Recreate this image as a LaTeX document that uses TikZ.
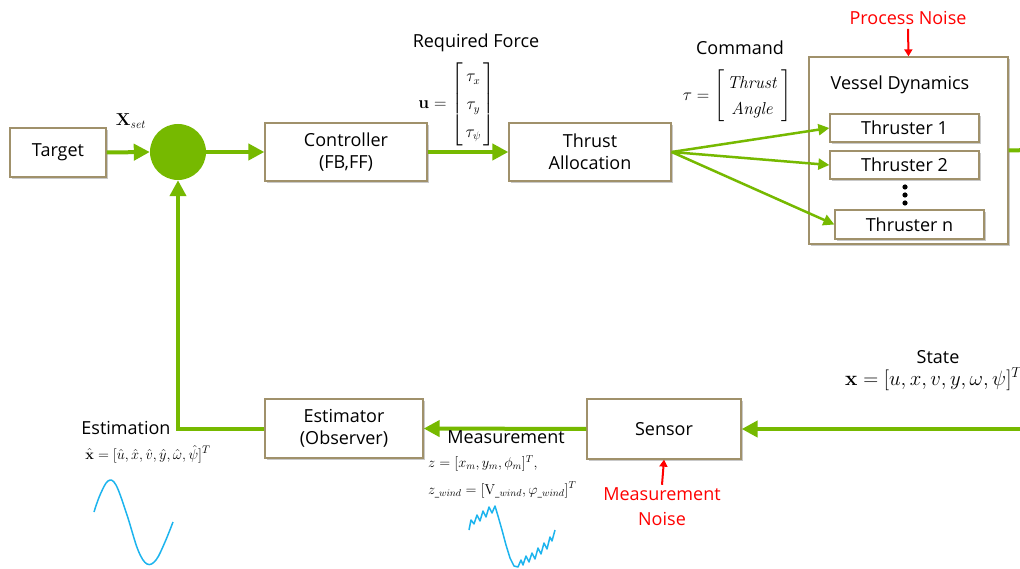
\documentclass[tikz,border=0pt]{standalone}
\usepackage{amsmath}
\usepackage[no-math]{fontspec}
\setmainfont{Open Sans}
\usetikzlibrary{arrows.meta,shadows}
\definecolor{ngreen}{HTML}{76B900}
\definecolor{boxedge}{HTML}{A0916B}
\definecolor{wave}{HTML}{1CB4EE}
\tikzset{
  blk/.style={draw=boxedge, line width=1.3pt, fill=white, inner sep=0pt, align=center,
    font=\fontsize{18}{22}\selectfont,
    drop shadow={opacity=0.35, shadow xshift=2pt, shadow yshift=-2pt, fill=black!60}},
  flow/.style={draw=ngreen, line width=4pt, -{Triangle[length=16pt,width=16pt]}},
  thin flow/.style={draw=ngreen, line width=2.5pt, -{Triangle[length=11pt,width=11pt]}},
  noise/.style={draw=red, line width=2pt, -{Triangle[length=7pt,width=8pt]}},
  lbl/.style={inner sep=0pt, font=\fontsize{18}{22}\selectfont},
  redlbl/.style={inner sep=0pt, text=red, align=center, font=\fontsize{18}{25}\selectfont},
  mth/.style={inner sep=0pt, font=\fontsize{17}{20}\selectfont},
  sig/.style={draw=wave, line width=1.5pt, line join=round}
}
\begin{document}
\begin{tikzpicture}[x=1pt,y=-1pt]
\clip (0,0) rectangle (1020,569);
\fill[white] (0,0) rectangle (1020,569);

% blocks
\node[blk, minimum width=96pt, minimum height=49pt] (target) at (58,152.5) {Target};
\node[circle, fill=ngreen, inner sep=0pt, minimum size=56pt] (sum) at (178,152) {};
\node[blk, minimum width=162pt, minimum height=58pt] (ctrl) at (346,152) {Controller\\(FB,FF)};
\node[blk, minimum width=162pt, minimum height=58pt] (alloc) at (590,152) {Thrust\\Allocation};
\node[blk, minimum width=199pt, minimum height=187pt] (vessel) at (908.5,150.5) {};
\node[lbl] (vtitle) at (900,85) {Vessel Dynamics};
\node[blk, minimum width=149pt, minimum height=28pt] (t1) at (904.5,128) {Thruster 1};
\node[blk, minimum width=149pt, minimum height=28pt] (t2) at (904.5,165) {Thruster 2};
\node[blk, minimum width=149pt, minimum height=29pt] (tn) at (909.5,224.5) {Thruster n};
\foreach \yy in {187,195,203}
  \fill (905,\yy) circle (2.6pt);
\node[blk, minimum width=154pt, minimum height=60pt] (sensor) at (664,429) {Sensor};
\node[blk, minimum width=158pt, minimum height=59pt] (est) at (344,428.5) {Estimator\\(Observer)};

% forward path
\draw[flow] (target.east) -- (sum.west);
\draw[flow] (sum.east) -- (ctrl.west);
\draw[flow] (ctrl.east) -- (alloc.west);
\draw[thin flow] (alloc.east) -- (t1.west);
\draw[thin flow] (alloc.east) -- (t2.west);
\draw[thin flow] (alloc.east) -- (tn.west);
\coordinate (vout) at (1030,150);
\draw[draw=ngreen, line width=4pt] (vessel.east) -- (vout);

% feedback path
\coordinate (sin) at (1030,429);
\draw[flow] (sin) -- (sensor.east);
\draw[flow] (sensor.west) -- (est.east);
\draw[flow] (est.west) -| (sum.south);

% noise
\node[redlbl] (pn) at (908,18) {Process Noise};
\draw[noise] (pn.south) ++(0,4) coordinate (pnstart) -- (vessel.north);
\node[redlbl] (mn) at (662,507) {Measurement\\Noise};
\draw[noise] (mn.north) ++(0,-3) coordinate (mnstart) -- (sensor.south);

% labels
\node[mth, font=\fontsize{18}{21}\selectfont] (xset) at (131,121) {$\mathbf{X}_{\mathit{set}}$};
\node[lbl] (rf) at (476,43) {Required Force};
\node[mth, font=\fontsize{16}{19}\selectfont] (umat) at (457,104) {$\mathbf{u}=\renewcommand{\arraystretch}{1.45}\left[\begin{array}{@{\,}c@{\,}}\tau_x\\ \tau_y\\ \tau_\psi\end{array}\right]$};
\node[lbl] (cmd) at (740,48) {Command};
\node[mth, font=\fontsize{18}{21}\selectfont] (taumat) at (737,96) {$\tau=\renewcommand{\arraystretch}{1.25}\left[\begin{array}{@{\,}c@{\,}}\mathit{Thrust}\\ \mathit{Angle}\end{array}\right]$};
\node[lbl] (state) at (938,357) {State};
\node[mth, anchor=west, font=\fontsize{21}{24}\selectfont] (statef) at (845,379) {$\mathbf{x}=[u,x,v,y,\omega,\psi]^T$};
\node[lbl] (estl) at (126,428) {Estimation};
\node[mth, font=\fontsize{15.5}{18}\selectfont] (estf) at (148,454) {$\hat{\mathbf{x}}=[\hat u,\hat x,\hat v,\hat y,\hat\omega,\hat\psi]^T$};
\node[lbl] (meas) at (506,437) {Measurement};
\node[mth, anchor=west, font=\fontsize{14}{16}\selectfont] (zf) at (428,463) {$z=[x_m,y_m,\phi_m]^T,$};
\node[mth, anchor=west, font=\fontsize{14}{16}\selectfont] (zw) at (428,490) {$z_{\_wind}=[\mathrm{V}_{\_wind},\varphi_{\_wind}]^T$};

% signal sketches
\draw[sig] plot[smooth, tension=0.6] coordinates {(94,512) (100,495) (108,481) (116,485) (127,515) (138,550) (147,564) (156,560) (165,542) (173,522)};
\draw[sig] (469,530) -- (471,520) -- (474,524) -- (477,515) -- (480,521) -- (483,511) -- (486,517) -- (489,507) -- (492,513) -- (495,506)
  -- (498,516) -- (502,530) -- (506,545) -- (510,558) -- (514,566) -- (518,567) -- (521,560) -- (523,565) -- (526,556) -- (529,562)
  -- (532,553) -- (535,559) -- (538,548) -- (541,554) -- (544,543) -- (547,549) -- (550,537) -- (552,541) -- (555,530);
\end{tikzpicture}
\end{document}
